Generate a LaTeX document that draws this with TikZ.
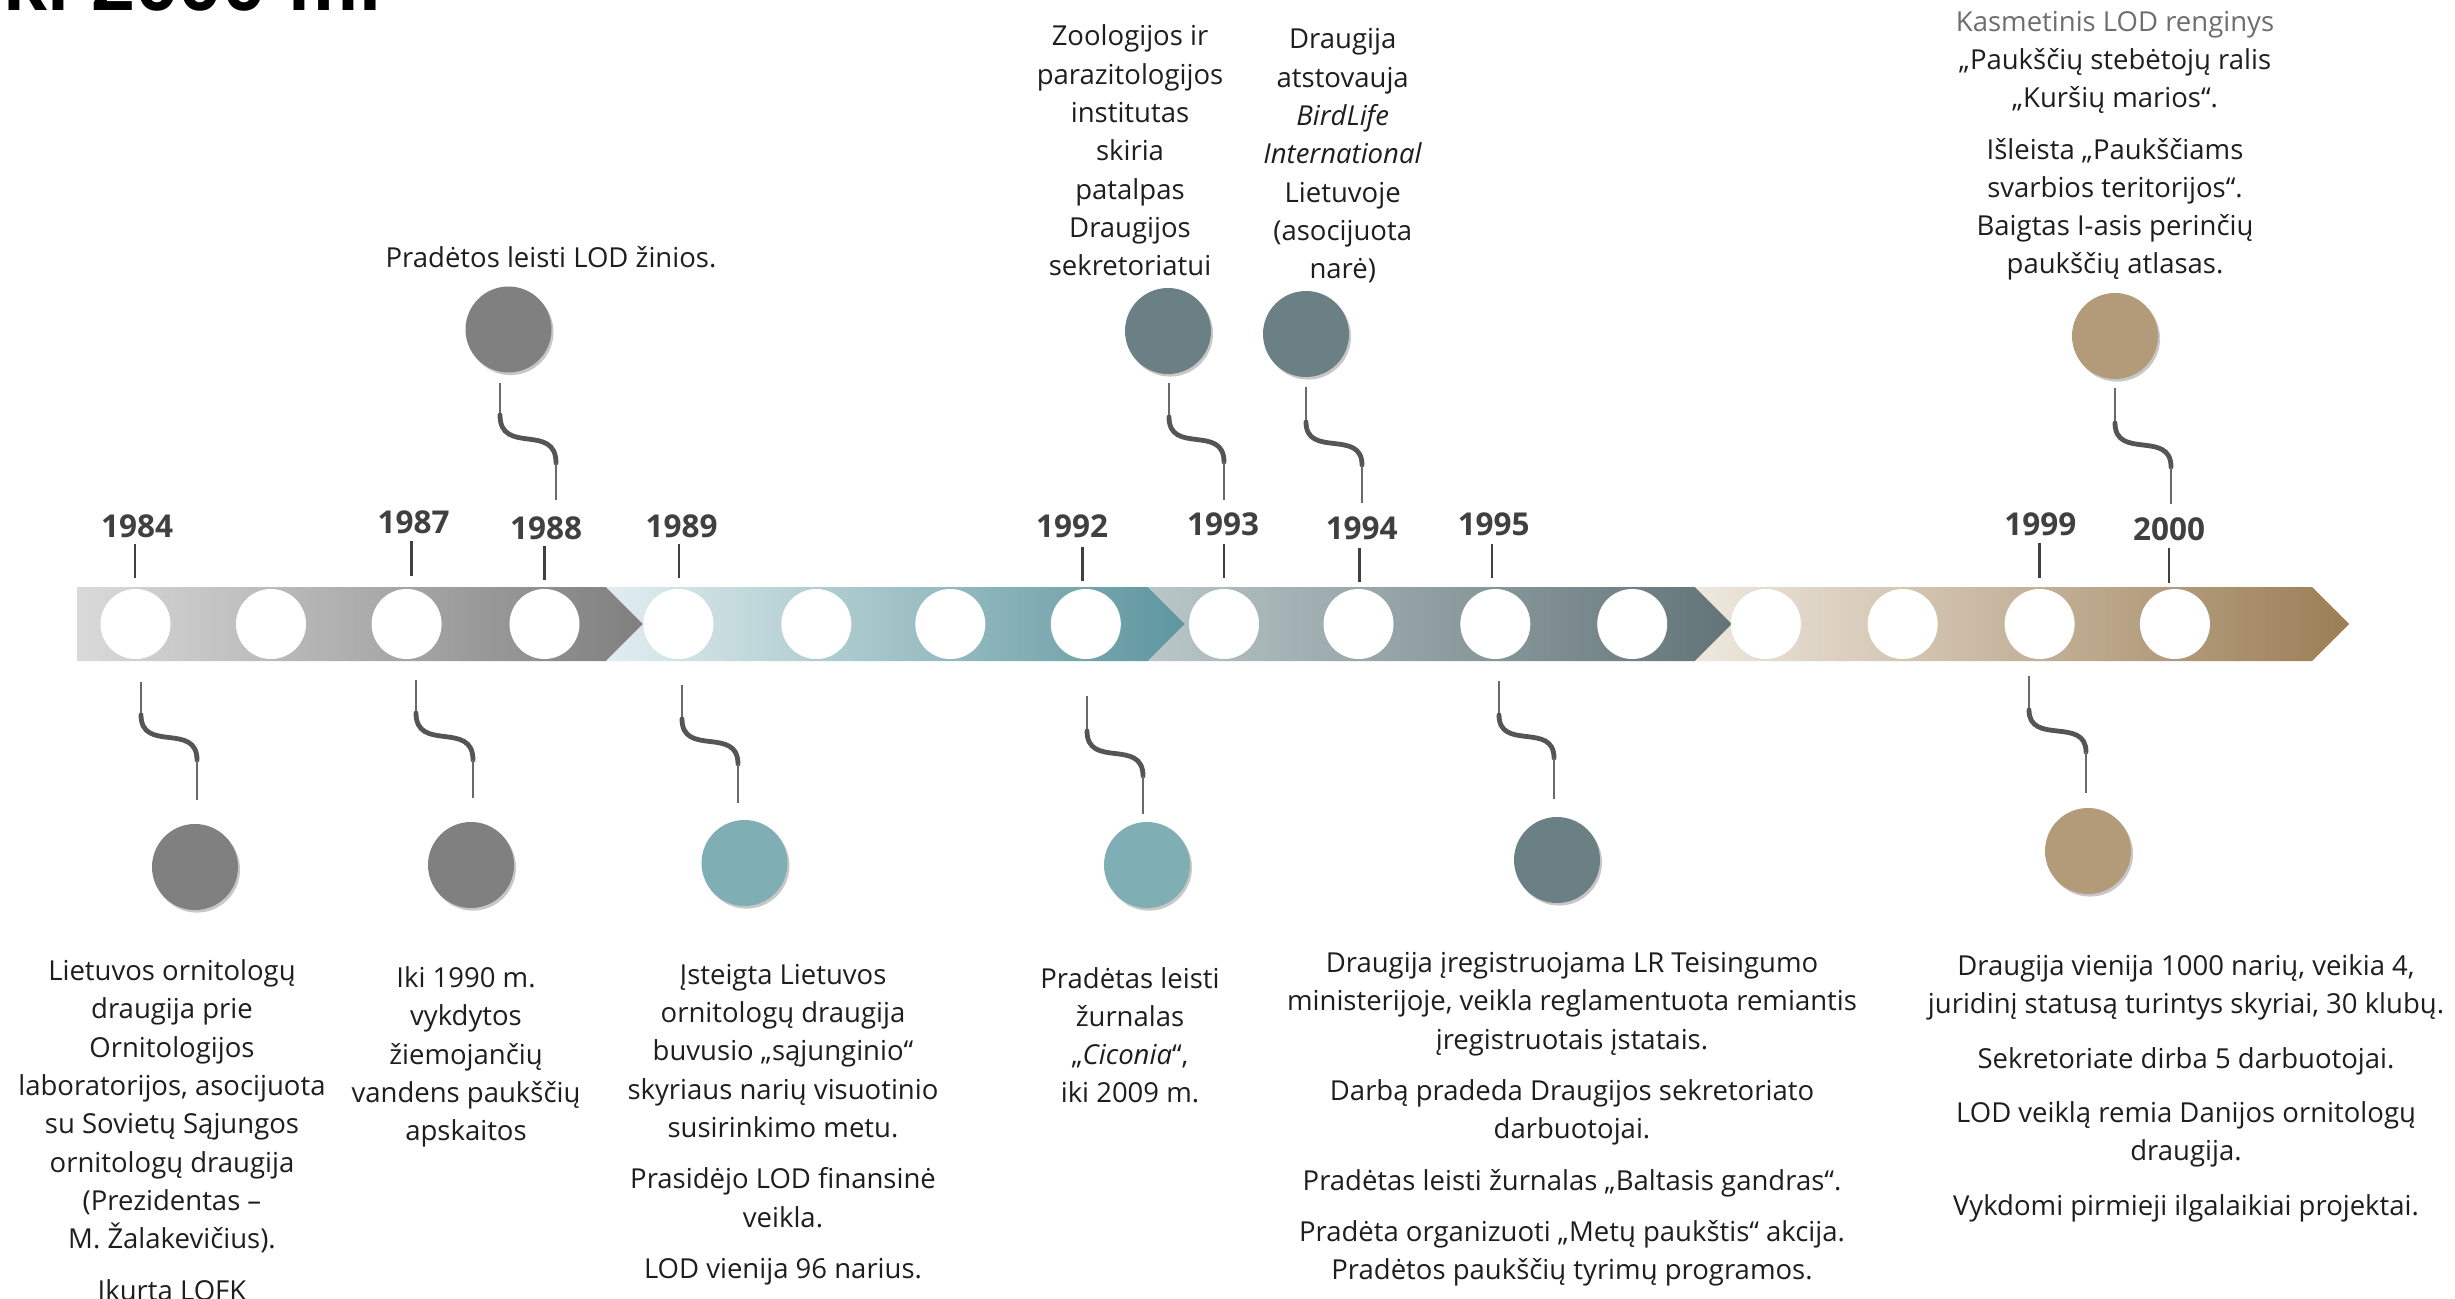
\documentclass[tikz,border=0pt]{standalone}
\usepackage{fontspec}
\setmainfont{Open Sans}
\newfontfamily\titlefont{Liberation Sans}
\usetikzlibrary{shadows,calc}
\definecolor{txt}{HTML}{1E1E1E}
\definecolor{txtgray}{HTML}{6E6E6E}
\definecolor{yr}{HTML}{404040}
\definecolor{conn}{HTML}{6A6A6A}
\definecolor{conns}{HTML}{555555}
\definecolor{cgray}{HTML}{808080}
\definecolor{cteal}{HTML}{80AEB5}
\definecolor{cslate}{HTML}{6B8085}
\definecolor{ctan}{HTML}{B39B79}
\definecolor{saL}{HTML}{DADADA}\definecolor{saR}{HTML}{7F7F7F}
\definecolor{sbL}{HTML}{E2EEF0}\definecolor{sbR}{HTML}{5E969E}
\definecolor{scL}{HTML}{BAC6C8}\definecolor{scR}{HTML}{627478}
\definecolor{sdL}{HTML}{EEE8DF}\definecolor{sdR}{HTML}{9B7E56}
\newcommand\tlconn[7]{%
  \coordinate (#1a) at (#2,#3);
  \coordinate (#1b) at (#2,#4);
  \coordinate (#1c) at (#5,#6);
  \coordinate (#1d) at (#5,#7);
  \draw[thinline] (#1a) -- (#1b);
  \draw[sline] (#1b) .. controls (#2,{#4+0.85*(#6-#4)}) and (#5,{#6-0.85*(#6-#4)}) .. (#1c);
  \draw[thinline] (#1c) -- (#1d);
}
\newcommand\tltick[4]{%
  \coordinate (#1top) at (#2,#3);
  \coordinate (#1bot) at (#2,#4);
  \draw[tickline] (#1top) -- (#1bot);
}
\begin{document}
\begin{tikzpicture}[x=0.5pt,y=-0.5pt,
  evtext/.style={font=\fontsize{13.75}{19.15}\selectfont, align=center, anchor=base, inner sep=0pt, text=txt},
  yearlbl/.style={font=\bfseries\fontsize{15.75}{18}\selectfont, anchor=base, inner sep=0pt, text=yr},
  barcirc/.style={circle, fill=white, minimum size=35pt, inner sep=0pt},
  evcirc/.style={circle, minimum size=43pt, inner sep=0pt, drop shadow={shadow xshift=1pt, shadow yshift=-1.3pt, fill=black, opacity=0.22}},
  tickline/.style={draw=yr, line width=1.2pt},
  thinline/.style={draw=conn, line width=0.65pt},
  sline/.style={draw=conns, line width=2.4pt, line cap=round}]
\useasboundingbox (0,0) rectangle (2455,1299);
\clip (0,0) rectangle (2455,1299);
\fill[white] (0,0) rectangle (2455,1299);

% title (cut off at top)
\node[anchor=base west, inner sep=0pt, font=\titlefont\bfseries\fontsize{39.5}{40}\selectfont] (title) at (-19,11) {iki 2000 m.};

% bar segments
\shade[left color=saL, right color=saR] (77,587) -- (606,587) -- (643,624) -- (606,661) -- (77,661) -- cycle;
\shade[left color=sbL, right color=sbR] (606,587) -- (1148,587) -- (1185,624) -- (1148,661) -- (606,661) -- (643,624) -- cycle;
\shade[left color=scL, right color=scR] (1148,587) -- (1695,587) -- (1732,624) -- (1695,661) -- (1148,661) -- (1185,624) -- cycle;
\shade[left color=sdL, right color=sdR] (1695,587) -- (2312,587) -- (2349,624) -- (2312,661) -- (1695,661) -- (1732,624) -- cycle;

\foreach \x [count=\i] in {135.5,271,406.6,544.5,678.4,816.3,950.3,1085.8,1224,1358.5,1495.3,1632.2,1765.9,1902.7,2039.6,2174.9}
  \node[barcirc] (b\i) at (\x,624) {};

% years
\node[yearlbl] (y1984) at (137,537.3) {1984};
\node[yearlbl] (y1987) at (413.7,533.3) {1987};
\node[yearlbl] (y1988) at (546,539.3) {1988};
\node[yearlbl] (y1989) at (681.6,537) {1989};
\node[yearlbl] (y1992) at (1072,537.3) {1992};
\node[yearlbl] (y1993) at (1223,535.7) {1993};
\node[yearlbl] (y1994) at (1361.7,539.3) {1994};
\node[yearlbl] (y1995) at (1493.7,535.7) {1995};
\node[yearlbl] (y1999) at (2040.4,535) {1999};
\node[yearlbl] (y2000) at (2169,540) {2000};

\tltick{k1984}{134.7}{544.3}{578.3}
\tltick{k1987}{411.3}{541.3}{576}
\tltick{k1988}{544.5}{545.7}{580}
\tltick{k1989}{679.2}{544}{578}
\tltick{k1992}{1082.6}{546.7}{581}
\tltick{k1993}{1223.7}{544}{578}
\tltick{k1994}{1359.3}{547.7}{582.3}
\tltick{k1995}{1492.1}{544.3}{578.3}
\tltick{k1999}{2039.6}{543.3}{577.7}
\tltick{k2000}{2169.2}{548.3}{582.7}

% connectors
\tlconn{c1984}{141}{682}{715}{197}{760}{800}
\tlconn{c1987}{416}{680}{713}{473}{760}{798}
\tlconn{c1989}{682}{685}{719}{738}{764}{803}
\tlconn{c1992}{1087}{696}{731}{1143}{776}{814}
\tlconn{c1995}{1499}{681}{715}{1554}{758}{799}
\tlconn{c1999}{2029}{676}{710}{2086}{752}{793}
\tlconn{c1988}{500}{383}{415}{556}{463}{500}
\tlconn{c1993}{1169}{383}{417}{1224}{462}{500}
\tlconn{c1994}{1306}{387}{422}{1362}{465}{503}
\tlconn{c2000}{2115}{388}{423}{2171}{467}{504}

% event circles
\node[evcirc, fill=cgray] (e1984) at (195,867) {};
\node[evcirc, fill=cgray] (e1987) at (471,865) {};
\node[evcirc, fill=cteal] (e1989) at (744.5,863) {};
\node[evcirc, fill=cteal] (e1992) at (1147,865) {};
\node[evcirc, fill=cslate] (e1995) at (1557,860) {};
\node[evcirc, fill=ctan] (e1999) at (2088,851) {};
\node[evcirc, fill=cgray] (e1988) at (508.5,329.5) {};
\node[evcirc, fill=cslate] (e1993) at (1168,331) {};
\node[evcirc, fill=cslate] (e1994) at (1306,334) {};
\node[evcirc, fill=ctan] (e2000) at (2115,336) {};

% texts (anchor = baseline of the last line)
\node[evtext] (t1984) at (172,1300) {Lietuvos ornitologų\\draugija prie\\Ornitologijos\\laboratorijos, asocijuota\\su Sovietų Sąjungos\\ornitologų draugija\\(Prezidentas –\\M. Žalakevičius).\\[6.5pt]Įkurta LOFK};
\node[evtext] (t1987) at (466,1140.8) {Iki 1990 m.\\vykdytos\\žiemojančių\\vandens paukščių\\apskaitos};
\node[evtext] (t1989) at (783,1278.4) {Įsteigta Lietuvos\\ornitologų draugija\\buvusio „sąjunginio“\\skyriaus narių visuotinio\\susirinkimo metu.\\[6.5pt]Prasidėjo LOD finansinė\\veikla.\\[6.5pt]LOD vienija 96 narius.};
\node[evtext] (t1992) at (1130,1102.9) {Pradėtas leisti\\žurnalas\\„\textit{Ciconia}“,\\iki 2009 m.};
\node[evtext] (t1995) at (1572,1279.6) {Draugija įregistruojama LR Teisingumo\\ministerijoje, veikla reglamentuota remiantis\\įregistruotais įstatais.\\[6.5pt]Darbą pradeda Draugijos sekretoriato\\darbuotojai.\\[6.5pt]Pradėtas leisti žurnalas „Baltasis gandras“.\\[6.5pt]Pradėta organizuoti „Metų paukštis“ akcija.\\Pradėtos paukščių tyrimų programos.};
\node[evtext] (t1999) at (2186,1215) {Draugija vienija 1000 narių, veikia 4,\\juridinį statusą turintys skyriai, 30 klubų.\\[8pt]Sekretoriate dirba 5 darbuotojai.\\[8pt]LOD veiklą remia Danijos ornitologų\\draugija.\\[8pt]Vykdomi pirmieji ilgalaikiai projektai.};
\node[evtext] (t1988) at (551,268) {Pradėtos leisti LOD žinios.};
\node[evtext] (t1993) at (1130,275.7) {Zoologijos ir\\parazitologijos\\institutas\\skiria\\patalpas\\Draugijos\\sekretoriatui};
\node[evtext] (t1994) at (1342.7,278.7) {Draugija\\atstovauja\\\textit{BirdLife}\\\textit{International}\\Lietuvoje\\(asocijuota\\narė)};
\node[evtext] (t2000) at (2115,274) {\textcolor{txtgray}{Kasmetinis LOD renginys}\\„Paukščių stebėtojų ralis\\„Kuršių marios“.\\[6.5pt]Išleista „Paukščiams\\svarbios teritorijos“.\\Baigtas I-asis perinčių\\paukščių atlasas.};
\end{tikzpicture}
\end{document}
